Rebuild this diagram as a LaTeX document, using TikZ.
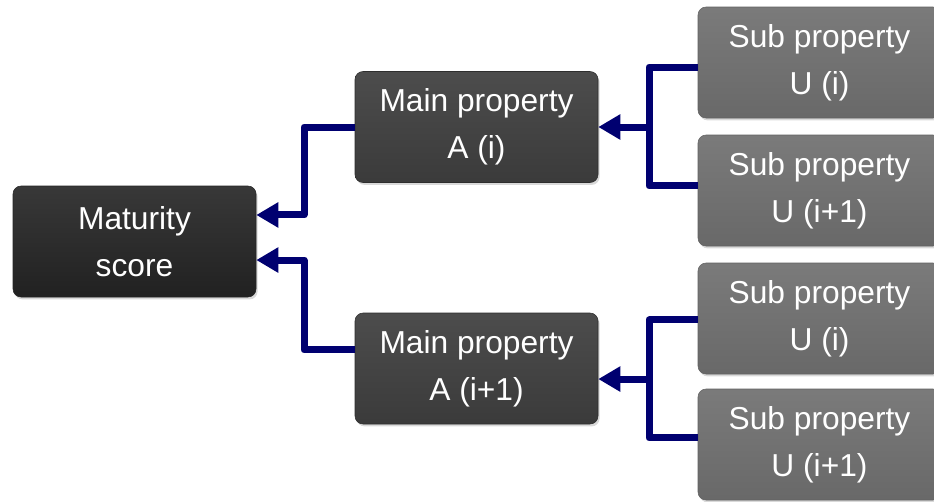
\documentclass[tikz,border=0pt]{standalone}
\usepackage{fontspec}
\setmainfont{Liberation Sans}
\usetikzlibrary{arrows.meta,shadows}
\definecolor{navy}{RGB}{0,0,112}
\tikzset{
  base/.style={rounded corners=6pt, minimum width=182.25pt, minimum height=83.25pt,
    text=white, align=center, inner sep=0pt,
    font=\fontsize{23.8}{35}\selectfont,
    drop shadow={shadow xshift=1.2pt, shadow yshift=-1.8pt, opacity=0.3}},
  matbox/.style={base, draw=black!85, top color=black!78, bottom color=black!87},
  mainbox/.style={base, draw=black!82, top color=black!70, bottom color=black!77},
  subbox/.style={base, draw=black!62, top color=black!52, bottom color=black!59},
  link/.style={navy, line width=5.25pt, line join=round},
  arr/.style={link, -{Triangle[length=16.5pt,width=18pt]}}
}
\begin{document}
\begin{tikzpicture}[x=0.75pt,y=-0.75pt]
\clip (0,0) rectangle (934,501);
\node[matbox] (mat) at (134.5,241.5) {Maturity\\score};
\node[mainbox] (ma) at (476.5,127) {Main property\\A (i)};
\node[mainbox] (mb) at (476.5,368.5) {Main property\\A (i+1)};
\node[subbox] (s1) at (819.5,62.5) {Sub property\\U (i)};
\node[subbox] (s2) at (819.5,190.5) {Sub property\\U (i+1)};
\node[subbox] (s3) at (819.5,318.5) {Sub property\\U (i)};
\node[subbox] (s4) at (819.5,444.5) {Sub property\\U (i+1)};
\coordinate (bx) at (304,0);
\coordinate (cx) at (649,0);
\coordinate (matu) at ([yshift=19.9pt]mat.east);
\coordinate (matl) at ([yshift=-13.9pt]mat.east);
\coordinate (mbw) at ([yshift=13.9pt]mb.west);
\coordinate (mbe) at ([yshift=-7.9pt]mb.east);
\coordinate (s1w) at ([yshift=-3.4pt]s1.west);
\coordinate (s2w) at ([yshift=3.4pt]s2.west);
\coordinate (s3w) at ([yshift=-1.1pt]s3.west);
\coordinate (s4w) at ([yshift=4.9pt]s4.west);
\draw[arr] (ma.west) -| (bx |- matu) -- (matu);
\draw[arr] (mbw) -| (bx |- matl) -- (matl);
\draw[link] (s1w) -| (cx |- s2w) -- (s2w);
\draw[arr] (cx |- ma.east) -- (ma.east);
\draw[link] (s3w) -| (cx |- s4w) -- (s4w);
\draw[arr] (cx |- mbe) -- (mbe);
\end{tikzpicture}
\end{document}
